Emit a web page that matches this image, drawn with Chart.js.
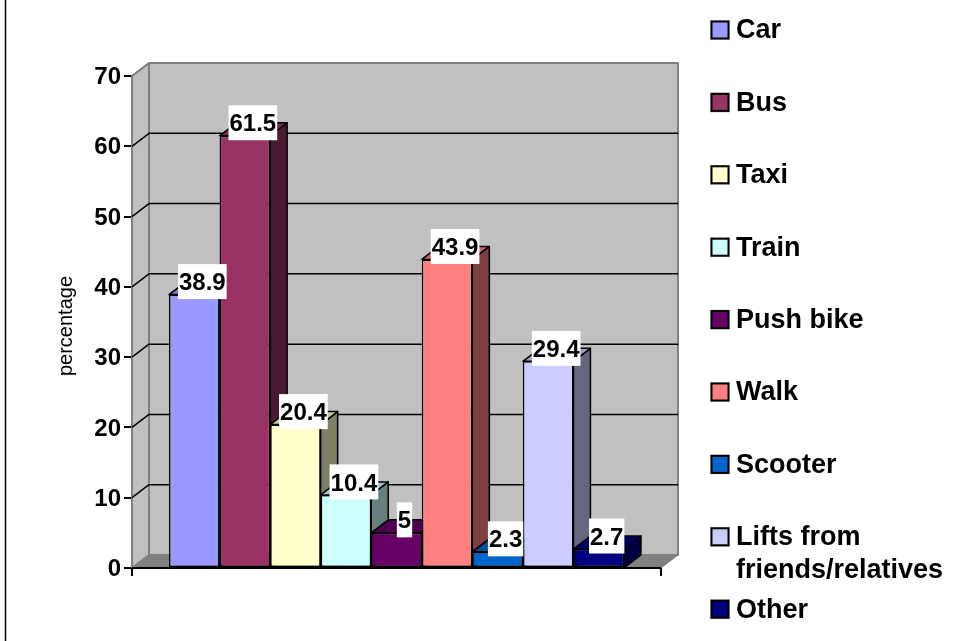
<!DOCTYPE html>
<html><head><meta charset="utf-8">
<style>html,body{margin:0;padding:0;background:#fff}#w{position:relative;width:970px;height:641px}</style>
<script src="https://cdn.jsdelivr.net/npm/chart.js@4"></script></head>
<body><div id="w"><canvas id="c" width="970" height="641"></canvas></div>
<script>
const categories = ["Car","Bus","Taxi","Train","Push bike","Walk","Scooter","Lifts from friends/relatives","Other"];
const values = [38.9,61.5,20.4,10.4,5,43.9,2.3,29.4,2.7];
const valueLabels = ["38.9","61.5","20.4","10.4","5","43.9","2.3","29.4","2.7"];
const colors = ["#9999FF","#993366","#FFFFCC","#CCFFFF","#660066","#FF8080","#0066CC","#CCCCFF","#000080"];
const legendLines = [["Car"],["Bus"],["Taxi"],["Train"],["Push bike"],["Walk"],["Scooter"],["Lifts from","friends/relatives"],["Other"]];
const yTicks = [0,10,20,30,40,50,60,70];
const yTitle = "percentage";
const DX=17, DY=-13;
const FAM='"Liberation Sans", Arial, sans-serif';
const FONT='bold 24px '+FAM;
const LEGFONT='bold 27px '+FAM;
function shade(hex,f){const n=parseInt(hex.slice(1),16);return `rgb(${(n>>16&255)*f|0},${(n>>8&255)*f|0},${(n&255)*f|0})`;}
function poly(ctx,pts,fill,stroke,lw){ctx.beginPath();pts.forEach((p,i)=>i?ctx.lineTo(p[0],p[1]):ctx.moveTo(p[0],p[1]));ctx.closePath();if(fill){ctx.fillStyle=fill;ctx.fill();}if(stroke){ctx.strokeStyle=stroke;ctx.lineWidth=lw;ctx.stroke();}}
const scene={id:'scene',
 beforeDatasetsDraw(ch){const c=ch.ctx,y=ch.scales.y,a=ch.chartArea;const L=a.left,R=a.right,B=y.getPixelForValue(0),T=y.getPixelForValue(70);
  c.save();c.lineJoin='round';
  poly(c,[[L+DX,T+DY],[R+DX,T+DY],[R+DX,B+DY],[L+DX,B+DY]],'#C0C0C0','#808080',2);
  poly(c,[[L,T],[L+DX,T+DY],[L+DX,B+DY],[L,B]],'#C0C0C0','#808080',2);
  poly(c,[[L,B],[L+DX,B+DY],[R+DX,B+DY],[R,B]],'#808080','#808080',1);
  c.strokeStyle='#000';c.lineWidth=1.5;
  yTicks.slice(1,-1).forEach(v=>{const p=y.getPixelForValue(v);c.beginPath();c.moveTo(L,p);c.lineTo(L+DX,p+DY);c.lineTo(R+DX,p+DY);c.stroke();});
  c.beginPath();c.moveTo(L,T);c.lineTo(L+DX,T+DY);c.strokeStyle='#808080';c.stroke();
  values.forEach((v,i)=>{const b=ch.getDatasetMeta(i).data[0];const l=b.x-b.width/2,r=b.x+b.width/2,t=b.y;
   poly(c,[[r,t],[r+DX,t+DY],[r+DX,B+DY],[r,B]],shade(colors[i],.5),'#000',1.5);
   poly(c,[[l,t],[l+DX,t+DY],[r+DX,t+DY],[r,t]],shade(colors[i],.78),'#000',1.5);
  });
  c.restore();},
 afterDatasetsDraw(ch){const c=ch.ctx,a=ch.chartArea,B=ch.scales.y.getPixelForValue(0);
  c.save();
  c.strokeStyle='#000';c.lineWidth=2;
  c.beginPath();c.moveTo(a.left,B);c.lineTo(a.right,B);c.moveTo(a.right,B);c.lineTo(a.right,B+8);c.moveTo(a.left,B);c.lineTo(a.left,B+8);c.stroke();
  c.font=FONT;c.textAlign='center';c.textBaseline='middle';
  values.forEach((v,i)=>{const b=ch.getDatasetMeta(i).data[0];const x=b.x+8,y=b.y-13,w=c.measureText(valueLabels[i]).width+2;
   c.fillStyle='#fff';c.fillRect(x-w/2,y-17.5,w,35);c.fillStyle='#000';c.fillText(valueLabels[i],x,y+2);});
  c.font=LEGFONT;c.textAlign='left';c.textBaseline='middle';
  legendLines.forEach((ls,i)=>{const y=30+72.4*i;
   c.fillStyle='#C0C0C0';c.fillRect(710,y-10,20,20);
   c.fillStyle=colors[i];c.strokeStyle='#000';c.lineWidth=2;c.fillRect(711.5,y-8.5,17,17);c.strokeRect(711.5,y-8.5,17,17);
   c.fillStyle='#000';ls.forEach((t,j)=>c.fillText(t,736,y+1+j*33));});
  c.strokeStyle='#000';c.lineWidth=1.5;c.beginPath();c.moveTo(5.5,0);c.lineTo(5.5,641);c.stroke();
  c.translate(66.5,326);c.rotate(-Math.PI/2);c.font='20px '+FAM;c.textAlign='center';c.fillStyle='#000';c.fillText(yTitle,0,0);
  c.restore();}
};
new Chart(document.getElementById('c'),{type:'bar',
 data:{labels:[''],datasets:categories.map((n,i)=>({label:n,data:[values[i]],backgroundColor:colors[i],borderColor:'#000',borderWidth:1.5,borderSkipped:false,barPercentage:1,categoryPercentage:.86}))},
 options:{responsive:false,animation:false,
  layout:{padding:{left:94,right:309,top:76,bottom:73}},
  plugins:{legend:{display:false},tooltip:{enabled:false}},
  scales:{
   x:{display:false,grid:{display:false}},
   y:{min:0,max:70,afterBuildTicks(s){s.ticks=yTicks.map(v=>({value:v}));},
    afterFit(s){s.width=38;},
    border:{color:'#000',width:2},
    grid:{drawOnChartArea:false,drawTicks:true,tickLength:8,color:'#000',lineWidth:2},
    ticks:{color:'#000',padding:3,labelOffset:1.5,font:{family:FAM,size:24,weight:'bold'}}}
  }},
 plugins:[scene]});
</script></body></html>
